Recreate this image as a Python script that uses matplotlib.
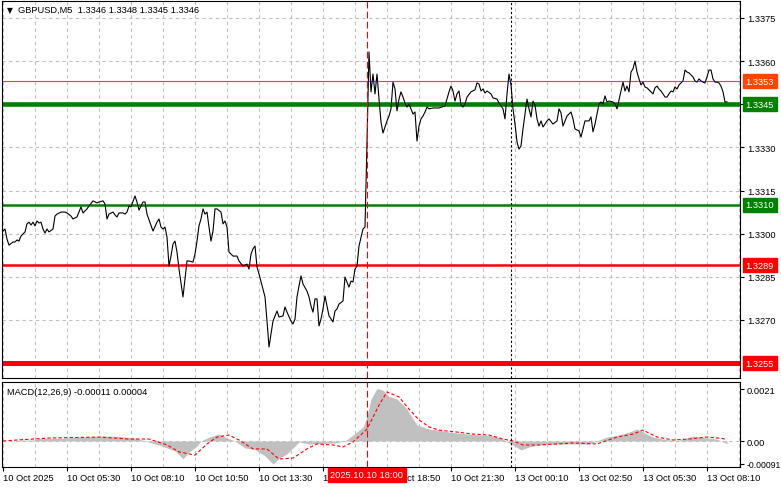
import numpy as np
import matplotlib.pyplot as plt

plt.rcParams['font.family'] = ['Liberation Sans', 'DejaVu Sans']

# M5 bars, index 0 = 10 Oct 02:50, weekend skipped (index 254 = 13 Oct 00:00)
bars = [0, 1, 2, 3, 5, 6, 7, 8, 9, 11, 12, 13, 14, 15, 16, 17, 18, 19, 20, 21, 22, 23, 25, 26, 27, 29, 31, 32,
        34, 35, 37, 38, 39, 40, 42, 43, 45, 47, 48, 50, 51, 52, 53, 55, 56, 57, 58, 60, 61, 62, 63, 64, 66, 67,
        68, 70, 71, 72, 75, 77, 78, 79, 80, 81, 82, 83, 84, 85, 86, 87, 88, 90, 91, 92, 93, 95, 96, 97, 98, 99,
        100, 101, 102, 103, 104, 105, 106, 107, 109, 110, 111, 112, 113, 114, 115, 117, 118, 120, 122, 123,
        124, 125, 126, 127, 128, 130, 131, 132, 133, 134, 135, 137, 138, 140, 141, 142, 144, 145, 146, 147,
        148, 149, 150, 152, 153, 154, 155, 156, 157, 158, 159, 160, 161, 162, 163, 165, 166, 167, 168, 170,
        171, 172, 173, 174, 175, 176, 177, 178, 180, 181, 182, 183, 184, 185, 186, 187, 188, 189, 190, 191,
        192, 193, 194, 195, 196, 197, 198, 199, 200, 201, 202, 203, 204, 205, 206, 207, 208, 209, 210, 211,
        212, 213, 215, 218, 221, 222, 223, 224, 225, 226, 227, 228, 229, 230, 231, 232, 234, 236, 237, 238,
        239, 240, 241, 242, 244, 245, 247, 248, 249, 250, 251, 252, 253, 254, 255, 256, 257, 258, 259, 260,
        261, 262, 263, 264, 265, 266, 267, 268, 269, 270, 271, 272, 273, 275, 277, 278, 279, 280, 281, 282,
        284, 285, 286, 288, 289, 290, 291, 293, 294, 295, 296, 297, 298, 299, 300, 301, 302, 303, 305, 306,
        307, 308, 309, 310, 311, 312, 313, 314, 315, 316, 317, 318, 319, 320, 321, 322, 323, 324, 325, 326,
        327, 328, 329, 330, 331, 332, 333, 334, 335, 336, 337, 338, 339, 340, 341, 342, 343, 344, 345, 346,
        347, 348, 349, 350, 351, 352, 353, 354, 355, 356, 357, 358, 359, 360, 361, 362]
close = [1.33009, 1.33016, 1.32981, 1.32960, 1.32971, 1.32971, 1.32978, 1.32974, 1.32992, 1.33006, 1.33034,
         1.33040, 1.33030, 1.33040, 1.33027, 1.33044, 1.33037, 1.33040, 1.33016, 1.33002, 1.33016, 1.33006,
         1.33016, 1.33061, 1.33068, 1.33075, 1.33075, 1.33072, 1.33061, 1.33051, 1.33058, 1.33075, 1.33093,
         1.33072, 1.33086, 1.33096, 1.33114, 1.33107, 1.33110, 1.33114, 1.33103, 1.33051, 1.33068, 1.33075,
         1.33065, 1.33058, 1.33072, 1.33072, 1.33068, 1.33075, 1.33096, 1.33093, 1.33131, 1.33110, 1.33082,
         1.33110, 1.33110, 1.33068, 1.33009, 1.33040, 1.33051, 1.33023, 1.33016, 1.33023, 1.32988, 1.32887,
         1.32922, 1.32964, 1.32974, 1.32936, 1.32877, 1.32780, 1.32842, 1.32905, 1.32905, 1.32901, 1.32929,
         1.32974, 1.33027, 1.33051, 1.33086, 1.33068, 1.33075, 1.33023, 1.32974, 1.33009, 1.33086, 1.33086,
         1.33075, 1.33034, 1.33044, 1.33023, 1.32936, 1.32929, 1.32922, 1.32922, 1.32905, 1.32887, 1.32894,
         1.32877, 1.32929, 1.32947, 1.32957, 1.32884, 1.32860, 1.32807, 1.32780, 1.32696, 1.32606, 1.32651,
         1.32696, 1.32731, 1.32710, 1.32714, 1.32745, 1.32727, 1.32696, 1.32686, 1.32703, 1.32780, 1.32818,
         1.32853, 1.32825, 1.32800, 1.32780, 1.32748, 1.32727, 1.32773, 1.32773, 1.32679, 1.32703, 1.32738,
         1.32783, 1.32748, 1.32714, 1.32693, 1.32731, 1.32738, 1.32755, 1.32766, 1.32849, 1.32832, 1.32814,
         1.32835, 1.32832, 1.32877, 1.32887, 1.32957, 1.33016, 1.33023, 1.33319, 1.33632, 1.33493, 1.33555,
         1.33486, 1.33555, 1.33468, 1.33388, 1.33350, 1.33371, 1.33392, 1.33409, 1.33434, 1.33527, 1.33503,
         1.33427, 1.33468, 1.33493, 1.33475, 1.33454, 1.33440, 1.33451, 1.33434, 1.33416, 1.33423, 1.33322,
         1.33374, 1.33399, 1.33409, 1.33423, 1.33440, 1.33434, 1.33437, 1.33437, 1.33444, 1.33468, 1.33493,
         1.33513, 1.33496, 1.33461, 1.33486, 1.33496, 1.33447, 1.33440, 1.33451, 1.33475, 1.33493, 1.33500,
         1.33524, 1.33520, 1.33496, 1.33503, 1.33489, 1.33496, 1.33486, 1.33472, 1.33468, 1.33454, 1.33444,
         1.33434, 1.33399, 1.33486, 1.33555, 1.33517, 1.33434, 1.33381, 1.33319, 1.33294, 1.33305, 1.33364,
         1.33416, 1.33468, 1.33434, 1.33406, 1.33461, 1.33447, 1.33399, 1.33374, 1.33392, 1.33371, 1.33381,
         1.33392, 1.33399, 1.33381, 1.33392, 1.33434, 1.33420, 1.33374, 1.33392, 1.33409, 1.33423, 1.33399,
         1.33364, 1.33357, 1.33336, 1.33364, 1.33392, 1.33392, 1.33406, 1.33354, 1.33381, 1.33416, 1.33451,
         1.33458, 1.33451, 1.33479, 1.33458, 1.33461, 1.33458, 1.33451, 1.33434, 1.33465, 1.33496, 1.33527,
         1.33496, 1.33513, 1.33493, 1.33562, 1.33573, 1.33600, 1.33562, 1.33538, 1.33517, 1.33527, 1.33510,
         1.33507, 1.33500, 1.33493, 1.33486, 1.33507, 1.33513, 1.33503, 1.33496, 1.33486, 1.33475, 1.33475,
         1.33486, 1.33496, 1.33493, 1.33510, 1.33503, 1.33517, 1.33524, 1.33531, 1.33569, 1.33562, 1.33559,
         1.33552, 1.33545, 1.33531, 1.33527, 1.33538, 1.33531, 1.33527, 1.33524, 1.33545, 1.33569, 1.33569,
         1.33538, 1.33527, 1.33527, 1.33524, 1.33513, 1.33493, 1.33458, 1.33458]

hist_bars = [0, 7, 8, 15, 18, 32, 38, 53, 58, 66, 68, 71, 78, 86, 90, 93, 97, 99, 103, 108, 112, 116, 121,
             126, 131, 135, 138, 142, 146, 148, 153, 158, 166, 171, 175, 180, 182, 184, 187, 190, 193, 197,
             202, 205, 207, 213, 218, 223, 232, 240, 245, 250, 252, 255, 259, 263, 268, 277, 287, 293, 298,
             302, 308, 313, 317, 320, 325, 330, 337, 340, 345, 352, 357, 360, 362]
hist = [0.0, 0.0, 0.00003, 0.00004, 0.00010, 0.00011, 0.00016, 0.00020, 0.00018, 0.00012, 0.00008, 0.0,
        -0.00016, -0.00040, -0.00072, -0.00045, -0.00020, 0.0, 0.00016, 0.00028, 0.00012, 0.0, -0.00028,
        -0.00034, -0.00060, -0.00093, -0.00070, -0.00052, -0.00020, -0.00004, -0.00012, -0.00010, -0.00008,
        0.0, 0.00024, 0.00056, 0.00100, 0.00170, 0.00212, 0.00205, 0.00180, 0.00170, 0.00129, 0.00089,
        0.00065, 0.00048, 0.00044, 0.00036, 0.00028, 0.00024, 0.00020, 0.00008, -0.00004, -0.00016, -0.00036,
        -0.00024, -0.00016, -0.00012, -0.00012, -0.00012, 0.00004, 0.00016, 0.00024, 0.00036, 0.00048,
        0.00036, 0.00016, 0.00008, 0.0, 0.00008, 0.00020, 0.00012, 0.00008, -0.00004, -0.00011]

sig_bars = [0, 7, 23, 48, 63, 73, 82, 88, 96, 102, 107, 113, 118, 125, 132, 138, 145, 152, 157, 165, 170,
            175, 182, 188, 192, 198, 203, 208, 213, 218, 227, 235, 243, 250, 255, 260, 268, 277, 285, 297,
            307, 315, 320, 327, 335, 343, 352, 360, 362]
signal = [0.0, 0.00004, 0.00012, 0.00016, 0.00008, 0.00008, -0.00016, -0.00044, -0.00057, -0.00012, 0.00016,
          0.00024, 0.00004, -0.00032, -0.00032, -0.00073, -0.00069, -0.00032, -0.00012, -0.00016, -0.00024,
          -0.00004, 0.00048, 0.00145, 0.00198, 0.00178, 0.00129, 0.00085, 0.00057, 0.00044, 0.00036, 0.00028,
          0.00024, 0.00008, 0.0, -0.00016, -0.00016, -0.00012, -0.00008, -0.00012, 0.00016, 0.00028, 0.00044,
          0.00016, 0.00004, 0.00008, 0.00016, 0.00010, 0.00004]

levels = [1.3353, 1.3345, 1.3310, 1.3289, 1.3255]
level_colors = ['#FF4500', '#008000', '#008000', '#FF0000', '#FF0000']
level_widths = [0.8, 3.3, 1.8, 1.8, 3.6]

price_ticks = [1.3375, 1.3360, 1.3345, 1.3330, 1.3315, 1.3300, 1.3285, 1.3270]
macd_ticks = [0.0021, 0.0, -0.00091]
macd_tick_labels = ['0.0021', '0.00', '-0.00091']
time_ticks = list(range(0, 353, 32))
time_labels = ['10 Oct 2025', '10 Oct 05:30', '10 Oct 08:10', '10 Oct 10:50', '10 Oct 13:30',
               '10 Oct 16:10', '10 Oct 18:50', '10 Oct 21:30', '13 Oct 00:10', '13 Oct 02:50',
               '13 Oct 05:30', '13 Oct 08:10']
cross_bar = 182
cross_label = '2025.10.10 18:00'
sep_bar = 254

W, H = 781, 489
fs = 6.7
grid_kw = dict(color='#C0C0C0', linestyle=(0, (3, 3)), linewidth=0.8)

fig = plt.figure(figsize=(W / 100, H / 100), dpi=100)
ax = fig.add_axes([2 / W, (H - 379) / H, 738 / W, 377 / H])
ax2 = fig.add_axes([2 / W, (H - 468) / H, 738 / W, 85 / H])

# main price panel
ax.set_xlim(-0.5, 368.5)
ax.set_ylim(1.32498, 1.33809)
ax.set_xticks(range(0, 369, 16))
ax.tick_params(axis='x', length=0, labelbottom=False)
ax.yaxis.tick_right()
ax.set_yticks(price_ticks)
# the 1.3345 tick label sits under the green level tag
ax.set_yticklabels(['' if p in levels else f'{p:.4f}' for p in price_ticks])
ax.tick_params(axis='y', length=3, width=0.8, labelsize=fs, pad=2)
ax.grid(True, **grid_kw)
ax.set_axisbelow(True)

for lvl, c, lw in zip(levels, level_colors, level_widths):
    ax.axhline(lvl, color=c, lw=lw, zorder=2)
    ax.annotate(f'{lvl:.4f}', xy=(1, lvl), xycoords=('axes fraction', 'data'), xytext=(4, 0),
                textcoords='offset points', va='center', ha='left', fontsize=fs, color='white',
                bbox=dict(boxstyle='square,pad=0.28', fc=c, ec=c), annotation_clip=False, zorder=5)

ax.plot(bars, close, color='black', lw=0.8, zorder=3)
ax.axvline(cross_bar, color='#FF0000', lw=0.8, ls=(0, (6, 3)), zorder=4)
ax.axvline(sep_bar, color='black', lw=0.8, ls=(0, (2, 2)), zorder=4)
ax.text(0.007, 0.978, '\u25bc', transform=ax.transAxes, fontsize=5.5, va='center', ha='left',
        family=['DejaVu Sans'])
ax.text(0.022, 0.978, 'GBPUSD,M5  1.3346 1.3348 1.3345 1.3346', transform=ax.transAxes,
        fontsize=fs, va='center', ha='left')

# MACD panel
ax2.set_xlim(-0.5, 368.5)
ax2.set_ylim(-0.00105, 0.002383)
ax2.fill_between(hist_bars, 0, hist, color='#C0C0C0', lw=0, zorder=2)
ax2.plot(sig_bars, signal, color='#FF0000', lw=0.8, ls=(0, (3, 2)), zorder=3)
ax2.axhline(0, **grid_kw, zorder=1)
ax2.axvline(cross_bar, color='#FF0000', lw=0.8, ls=(0, (6, 3)), zorder=4)
ax2.axvline(sep_bar, color='black', lw=0.8, ls=(0, (2, 2)), zorder=4)
ax2.set_xticks(time_ticks)
ax2.set_xticklabels(time_labels, ha='left')
ax2.set_xticks(range(16, 369, 32), minor=True)
ax2.tick_params(axis='x', which='major', length=3, width=0.8, labelsize=fs, pad=1)
ax2.tick_params(axis='x', which='minor', length=0)
ax2.grid(True, axis='x', which='both', **grid_kw)
ax2.set_axisbelow(True)
ax2.yaxis.tick_right()
ax2.set_yticks(macd_ticks)
ax2.set_yticklabels(macd_tick_labels)
ax2.tick_params(axis='y', length=3, width=0.8, labelsize=fs, pad=2)
for lab in ax2.get_yticklabels():
    if lab.get_text().startswith('-'):
        lab.set_fontsize(6.2)
ax2.text(0.007, 0.89, 'MACD(12,26,9) -0.00011 0.00004', transform=ax2.transAxes, fontsize=fs,
         va='center', ha='left')
ax2.annotate(cross_label, xy=(cross_bar, 0), xycoords=('data', 'axes fraction'), xytext=(0, -2.5),
             textcoords='offset points', ha='center', va='top', fontsize=fs, color='white',
             bbox=dict(boxstyle='square,pad=0.22', fc='#FF0000', ec='#FF0000'),
             annotation_clip=False, zorder=6)

for a in (ax, ax2):
    for s in a.spines.values():
        s.set_color('black')
        s.set_linewidth(0.8)

fig.savefig('out.png', dpi=100)
